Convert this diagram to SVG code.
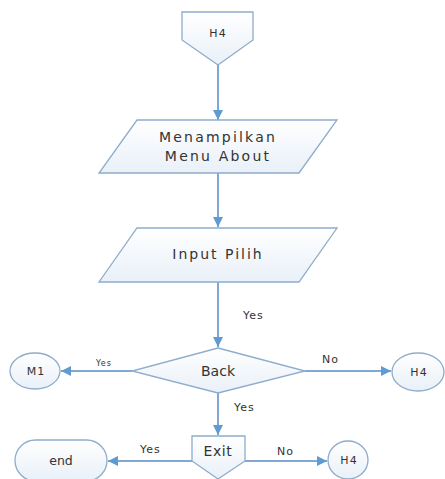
<svg xmlns="http://www.w3.org/2000/svg" width="445" height="479" viewBox="0 0 445 479">
<defs>
<linearGradient id="g" x1="0" y1="0" x2="0" y2="1">
<stop offset="0" stop-color="#ffffff"/>
<stop offset="1" stop-color="#e9f0f8"/>
</linearGradient>
<marker id="ah" viewBox="0 0 10 10" refX="10" refY="5" markerWidth="10" markerHeight="10" markerUnits="userSpaceOnUse" orient="auto">
<path d="M0,0 L10,5 L0,10 Z" fill="#5f9bd0"/>
</marker>
<style>
.s{fill:url(#g);stroke:#8eaccb;stroke-width:1.3}
.c{fill:none;stroke:#7fa9d3;stroke-width:2;marker-end:url(#ah)}
text{font-family:"DejaVu Sans",Verdana,sans-serif;fill:#333;text-anchor:middle}
.m{font-size:14px}
.sm{font-size:11px;letter-spacing:1px}
.lb{font-size:11px;letter-spacing:1px;text-anchor:start}
</style>
</defs>
<rect width="445" height="479" fill="#ffffff"/>
<g id="connectors">
<path class="c" d="M218,65 L218,120"/>
<path class="c" d="M218,173 L218,227"/>
<path class="c" d="M218,282 L218,347"/>
<path class="c" d="M132,371 L61,371"/>
<path class="c" d="M305,371 L391,371"/>
<path class="c" d="M218,392 L218,435"/>
<path class="c" d="M192,461 L108,461"/>
<path class="c" d="M245,461 L327,461"/>
<text class="lb" x="243" y="319">Yes</text>
<text class="lb" x="96" y="366" style="font-size:8px">Yes</text>
<text class="lb" x="322" y="363">No</text>
<text class="lb" x="234" y="411">Yes</text>
<text class="lb" x="140" y="453">Yes</text>
<text class="lb" x="277" y="455">No</text>
</g>
<g id="h4top">
<path class="s" d="M182,12 L253,12 L253,40 L218,65 L182,40 Z"/>
<text class="sm" x="218" y="37">H4</text>
</g>
<g id="menu">
<path class="s" d="M137,120 L337,120 L299,173 L99,173 Z"/>
<text class="m" x="218" y="142" style="letter-spacing:2.2px">Menampilkan</text>
<text class="m" x="218" y="161" style="letter-spacing:2.2px">Menu About</text>
</g>
<g id="input">
<path class="s" d="M137,228 L337,228 L299,282 L99,282 Z"/>
<text class="m" x="218" y="259" style="letter-spacing:2px">Input Pilih</text>
</g>
<g id="back">
<path class="s" d="M218,348 L305,371 L218,393 L132,371 Z"/>
<text class="m" x="218" y="376">Back</text>
</g>
<g id="m1">
<ellipse class="s" cx="35" cy="371" rx="25" ry="18"/>
<text class="sm" x="36" y="375">M1</text>
</g>
<g id="h4right">
<ellipse class="s" cx="418" cy="372" rx="26" ry="19"/>
<text class="sm" x="419" y="376">H4</text>
</g>
<g id="exit">
<path class="s" d="M192,436 L245,436 L245,461 L218,479 L192,461 Z"/>
<text class="m" x="218" y="456" style="letter-spacing:0.6px">Exit</text>
</g>
<g id="end">
<rect class="s" x="15" y="440" width="92" height="41" rx="20.5"/>
<text x="61" y="465" style="font-size:12.5px">end</text>
</g>
<g id="h4bottom">
<ellipse class="s" cx="348" cy="460" rx="20" ry="19"/>
<text class="sm" x="349" y="464">H4</text>
</g>
</svg>
